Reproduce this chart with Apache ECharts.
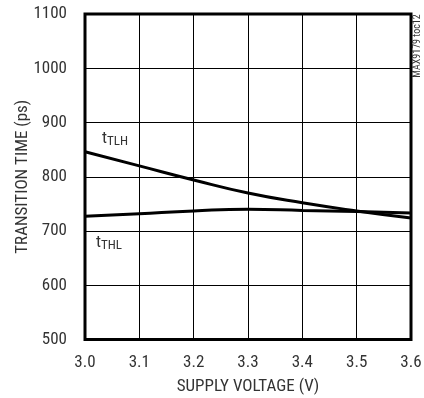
<!DOCTYPE html>
<html><head><meta charset="utf-8">
<script src="https://cdn.jsdelivr.net/npm/echarts@6/dist/echarts.min.js"></script>
<style>html,body{margin:0;padding:0;background:#fff}#c{width:424px;height:398px}</style>
</head><body><div id="c"></div>
<script>
const voltage = [3.0, 3.1, 3.2, 3.3, 3.4, 3.5, 3.6];
const tTLH = [846, 820, 794, 770, 752, 737, 724];
const tTHL = [727, 732, 737, 740, 738, 736, 733];
const xTitle = 'SUPPLY VOLTAGE (V)';
const yTitle = 'TRANSITION TIME (ps)';
const note = 'MAX9179 toc12';
const FONT = '"Roboto Condensed","Liberation Sans",Arial,sans-serif';
const TXT = '#333';

const chart = echarts.init(document.getElementById('c'), null, {renderer: 'canvas'});
const pair = (xs, ys) => xs.map((x, i) => [x, ys[i]]);
const sub = {
  m: {fontFamily: FONT, fontSize: 17, fill: TXT},
  s: {fontFamily: FONT, fontSize: 13, fill: TXT, padding: [6, 0, 0, 0]}
};
chart.setOption({
  animation: false,
  grid: {left: 85, top: 14, right: 13, bottom: 58.5, containLabel: false, outerBoundsMode: 'none',
    show: true, borderColor: '#000', borderWidth: 3, backgroundColor: 'transparent'},
  xAxis: {
    type: 'value', min: 3.0, max: 3.6, interval: 0.1,
    name: xTitle, nameLocation: 'middle', nameGap: 39, nameMoveOverlap: false,
    nameTextStyle: {fontFamily: FONT, fontSize: 17, color: TXT},
    axisLine: {show: false}, axisTick: {show: false},
    axisLabel: {formatter: v => v.toFixed(1), fontFamily: FONT, fontSize: 17, color: TXT, margin: 15},
    splitLine: {show: true, lineStyle: {color: '#000', width: 1}}
  },
  yAxis: {
    type: 'value', min: 500, max: 1100, interval: 100,
    name: yTitle, nameLocation: 'middle', nameGap: 54, nameMoveOverlap: false,
    nameTextStyle: {fontFamily: FONT, fontSize: 17, color: TXT},
    axisLine: {show: false}, axisTick: {show: false},
    axisLabel: {formatter: v => String(v), fontFamily: FONT, fontSize: 17, color: TXT, margin: 18},
    splitLine: {show: true, lineStyle: {color: '#000', width: 1}}
  },
  series: [
    {type: 'line', data: pair(voltage, tTLH), smooth: true, symbol: 'none', lineStyle: {color: '#000', width: 3}},
    {type: 'line', data: pair(voltage, tTHL), smooth: true, symbol: 'none', lineStyle: {color: '#000', width: 3}}
  ],
  graphic: [
    {type: 'text', left: 102, top: 130, style: {text: '{m|t}{s|TLH}', rich: sub}},
    {type: 'text', left: 96, top: 234, style: {text: '{m|t}{s|THL}', rich: sub}},
    {type: 'text', x: 417, y: 46, rotation: Math.PI / 2, style: {
      text: note, fontFamily: FONT, fontSize: 10, fill: TXT, align: 'center', verticalAlign: 'middle'
    }}
  ]
});
</script></body></html>
